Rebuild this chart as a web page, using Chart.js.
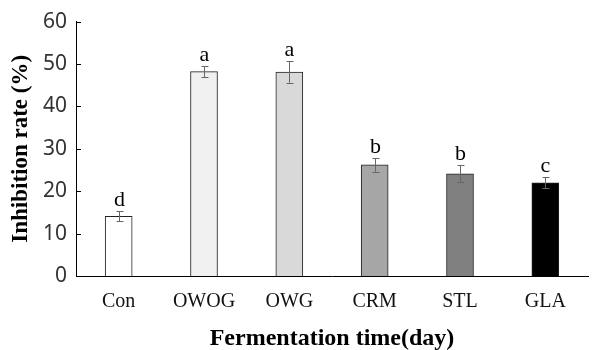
<!DOCTYPE html>
<html lang="en">
<head>
    <meta charset="UTF-8">
    <title>Inhibition rate</title>
    <script src="https://cdn.jsdelivr.net/npm/chart.js@4.4.4/dist/chart.umd.min.js"></script>
    <style>
        html, body { margin: 0; padding: 0; background: #fff; }
        #wrap { width: 600px; height: 350px; }
    </style>
</head>
<body>
    <div id="wrap"><canvas id="chart"></canvas></div>
    <script>
        // Data
        const categories = ['Con', 'OWOG', 'OWG', 'CRM', 'STL', 'GLA'];
        const values = [14.1, 48.2, 48.1, 26.2, 24.1, 22.0];
        const errors = [1.2, 1.3, 2.5, 1.6, 2.0, 1.3];
        const letters = ['d', 'a', 'a', 'b', 'b', 'c'];
        const fills = ['#ffffff', '#f0f0f0', '#d9d9d9', '#a6a6a6', '#808080', '#000000'];
        const yTicks = [0, 10, 20, 30, 40, 50, 60];

        // error bars, significance letters and inward y ticks
        const extras = {
            id: 'extras',
            afterDatasetsDraw(chart) {
                const ctx = chart.ctx;
                const y = chart.scales.y;
                const meta = chart.getDatasetMeta(0);
                ctx.save();
                ctx.strokeStyle = '#666';
                ctx.lineWidth = 1;
                meta.data.forEach((bar, i) => {
                    const x = Math.round(bar.x) + 0.5;
                    const top = y.getPixelForValue(values[i] + errors[i]);
                    const bot = y.getPixelForValue(values[i] - errors[i]);
                    ctx.beginPath();
                    ctx.moveTo(x, top); ctx.lineTo(x, bot);
                    ctx.moveTo(x - 3, Math.round(top) + 0.5); ctx.lineTo(x + 4, Math.round(top) + 0.5);
                    ctx.moveTo(x - 3, Math.round(bot) + 0.5); ctx.lineTo(x + 4, Math.round(bot) + 0.5);
                    ctx.stroke();
                    ctx.fillStyle = '#000';
                    ctx.font = '22px "Liberation Serif", serif';
                    ctx.textAlign = 'center';
                    ctx.textBaseline = 'alphabetic';
                    ctx.fillText(letters[i], x, top - 5);
                });
                // inward ticks on the y axis
                ctx.strokeStyle = '#000';
                const left = chart.chartArea.left;
                yTicks.forEach(v => {
                    const py = Math.round(y.getPixelForValue(v)) + 0.5;
                    ctx.beginPath();
                    ctx.moveTo(left, py); ctx.lineTo(left + 5, py);
                    ctx.stroke();
                });
                ctx.restore();
            }
        };

        new Chart(document.getElementById('chart'), {
            type: 'bar',
            data: {
                labels: categories,
                datasets: [{
                    data: values,
                    backgroundColor: fills,
                    borderColor: '#222',
                    borderWidth: 1,
                    barThickness: 27
                }]
            },
            options: {
                responsive: true,
                maintainAspectRatio: false,
                animation: false,
                layout: { padding: { top: 16, right: 12, left: 0, bottom: 0 } },
                plugins: {
                    legend: { display: false },
                    tooltip: { enabled: false }
                },
                scales: {
                    x: {
                        grid: { display: false, drawTicks: false },
                        border: { color: '#000', width: 1 },
                        ticks: {
                            color: '#111',
                            padding: 14,
                            font: { family: '"Liberation Serif", serif', size: 20 }
                        },
                        title: {
                            display: true,
                            text: 'Fermentation time(day)',
                            color: '#000',
                            padding: { top: 0, bottom: -3 },
                            font: { family: '"Liberation Serif", serif', size: 24, weight: 'bold' }
                        },
                        afterFit: s => { s.height = 74; }
                    },
                    y: {
                        min: 0,
                        max: 60,
                        afterBuildTicks: s => { s.ticks = yTicks.map(v => ({ value: v })); },
                        grid: { display: false, drawTicks: false },
                        border: { color: '#000', width: 1 },
                        ticks: {
                            color: '#333',
                            padding: 9,
                            font: { family: '"Noto Sans", sans-serif', size: 21 }
                        },
                        title: {
                            display: true,
                            text: 'Inhibition rate (%)',
                            color: '#000',
                            padding: { top: 7, bottom: 0 },
                            font: { family: '"Liberation Serif", serif', size: 23, weight: 'bold' }
                        },
                        afterFit: s => { s.width = 76; }
                    }
                }
            },
            plugins: [extras]
        });
    </script>
</body>
</html>
